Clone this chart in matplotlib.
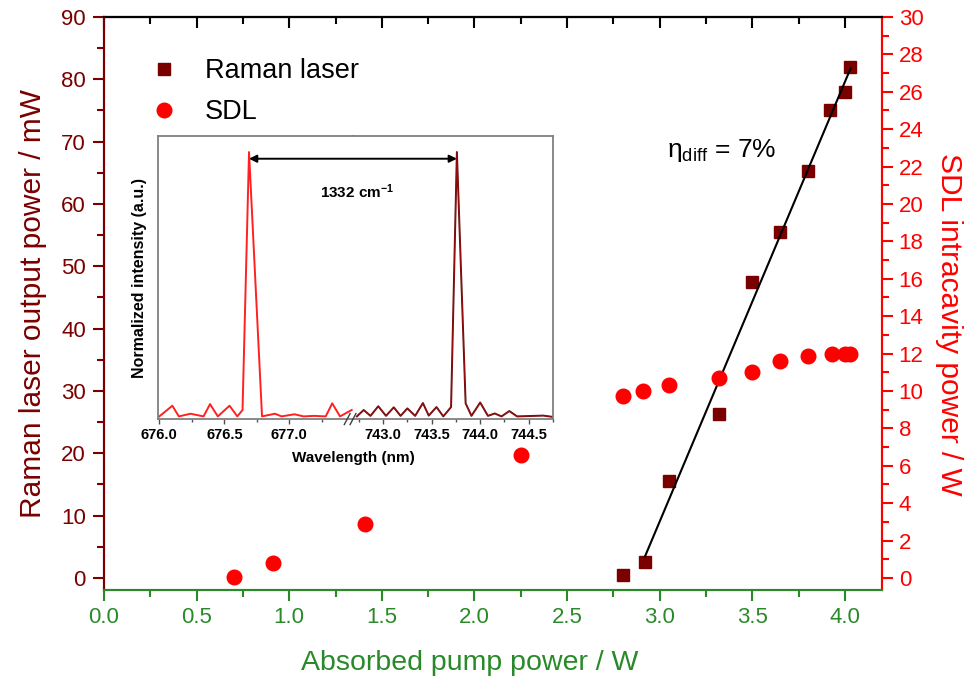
import numpy as np
import matplotlib
matplotlib.use("Agg")
import matplotlib.pyplot as plt
from matplotlib.ticker import MultipleLocator, FixedLocator
from matplotlib.lines import Line2D
from matplotlib.patches import ConnectionPatch

plt.rcParams['font.family'] = ['Liberation Sans', 'DejaVu Sans']
plt.rcParams['mathtext.fontset'] = 'custom'
plt.rcParams['mathtext.rm'] = 'Liberation Sans'
plt.rcParams['mathtext.bf'] = 'Liberation Sans:bold'
plt.rcParams['mathtext.it'] = 'Liberation Sans:italic'

# ---------------- data ----------------
raman_x = [2.80, 2.92, 3.05, 3.32, 3.50, 3.65, 3.80, 3.92, 4.00, 4.03]
raman_mw = [0.5, 2.5, 15.5, 26.3, 47.5, 55.5, 65.3, 75.0, 78.0, 82.0]

sdl_x = [0.70, 0.91, 1.41, 2.25, 2.80, 2.91, 3.05, 3.32, 3.50, 3.65, 3.80, 3.93, 4.00, 4.03]
sdl_w = [0.05, 0.8, 2.9, 6.6, 9.75, 10.0, 10.3, 10.7, 11.0, 11.6, 11.85, 12.0, 12.0, 12.0]

# inset spectrum (normalized intensity)
spec1_nm = [676.00, 676.10, 676.15, 676.24, 676.34, 676.39, 676.45, 676.54, 676.60,
            676.64, 676.69, 676.79, 676.89, 676.94, 677.04, 677.11, 677.19, 677.28,
            677.33, 677.39, 677.48]
spec1_i = [0.01, 0.05, 0.01, 0.02, 0.01, 0.056, 0.01, 0.05, 0.01,
           0.034, 1.00, 0.01, 0.02, 0.01, 0.018, 0.01, 0.012, 0.01,
           0.059, 0.01, 0.034]
spec2_nm = [742.73, 742.80, 742.87, 742.95, 743.03, 743.11, 743.18, 743.25, 743.33,
            743.41, 743.47, 743.55, 743.62, 743.70, 743.76, 743.85, 743.91, 744.00,
            744.08, 744.15, 744.22, 744.30, 744.38, 744.65, 744.75]
spec2_i = [0.01, 0.034, 0.012, 0.048, 0.012, 0.044, 0.012, 0.04, 0.012,
           0.06, 0.013, 0.045, 0.01, 0.045, 1.00, 0.059, 0.012, 0.062,
           0.012, 0.021, 0.01, 0.03, 0.01, 0.013, 0.008]

x_ticks = [0.0, 0.5, 1.0, 1.5, 2.0, 2.5, 3.0, 3.5, 4.0]
left_ticks = list(range(0, 91, 10))
right_ticks = list(range(0, 31, 2))
inset_ticks1 = [676.0, 676.5, 677.0]
inset_ticks2 = [743.0, 743.5, 744.0, 744.5]

# ---------------- colours ----------------
MAROON = '#7a0000'
RED = '#ff0000'
GREEN = '#2a8a2a'

fig = plt.figure(figsize=(9.69, 6.87), dpi=100)
ax = fig.add_axes([0.1073, 0.1412, 0.8029, 0.8341])
ax2 = ax.twinx()

ax.set_xlim(0, 4.2)
ax.set_ylim(-1.93, 90)
ax2.set_ylim(-1.93 / 3, 30)

# Raman squares and linear fit
ax.plot(raman_x, raman_mw, 's', color=MAROON, markersize=9, zorder=3)
fx = np.array(raman_x[1:])
fy = np.array(raman_mw[1:])
p = np.polyfit(fx, fy, 1)
xx = np.array([fx.min(), fx.max()])
ax.plot(xx, np.polyval(p, xx), '-', color='black', lw=1.5, zorder=4)

# SDL circles
ax2.plot(sdl_x, sdl_w, 'o', color=RED, markersize=10.5, zorder=3)

# axes styling
ax.set_xticks(x_ticks)
ax.set_xticklabels([f'{v:.1f}' for v in x_ticks])
ax.xaxis.set_minor_locator(MultipleLocator(0.25))
ax.set_yticks(left_ticks)
ax.yaxis.set_minor_locator(MultipleLocator(5))
ax2.set_yticks(right_ticks)
ax2.yaxis.set_minor_locator(MultipleLocator(1))

ax.tick_params(axis='x', which='both', direction='out', colors=GREEN, top=False, width=1.5)
ax.tick_params(axis='x', which='major', length=8, labelsize=16, pad=4)
ax.tick_params(axis='x', which='minor', length=5)
ax.tick_params(axis='y', which='both', direction='out', colors=MAROON, width=1.5)
ax.tick_params(axis='y', which='major', length=8, labelsize=16, pad=5)
ax.tick_params(axis='y', which='minor', length=5)
ax2.tick_params(axis='y', which='both', direction='out', colors=RED, width=1.5)
ax2.tick_params(axis='y', which='major', length=8, labelsize=16, pad=4)
ax2.tick_params(axis='y', which='minor', length=5)

# top ticks (inward, black)
axt = ax.secondary_xaxis('top')
axt.set_xticks(x_ticks)
axt.set_xticklabels([])
axt.xaxis.set_minor_locator(MultipleLocator(0.25))
axt.tick_params(axis='x', which='both', direction='in', colors='black', width=1.5)
axt.tick_params(axis='x', which='major', length=8)
axt.tick_params(axis='x', which='minor', length=5)
axt.spines['top'].set_color('black')
axt.spines['top'].set_linewidth(1.5)

for a in (ax, ax2):
    a.spines['bottom'].set_color(GREEN)
    a.spines['left'].set_color(MAROON)
    a.spines['right'].set_color(RED)
    a.spines['top'].set_color('black')
    for s in a.spines.values():
        s.set_linewidth(1.5)

ax.set_xlabel('Absorbed pump power / W', color=GREEN, fontsize=20.5)
ax.xaxis.set_label_coords(0.47, -0.105)
ax.set_ylabel('Raman laser output power / mW', color=MAROON, fontsize=21.5, labelpad=10)
ax2.set_ylabel('SDL intracavity power / W', color=RED, fontsize=21.5, rotation=270, labelpad=26)
ax2.yaxis.set_label_coords(1.104, 0.464)

# efficiency annotation
ax.text(3.04, 68.5, 'η$_{\\mathrm{diff}}$ = 7%', fontsize=19, color='black',
        ha='left', va='center')

# legend
handles = [Line2D([], [], ls='none', marker='s', color=MAROON, markersize=9),
           Line2D([], [], ls='none', marker='o', color=RED, markersize=10.5)]
ax2.legend(handles, ['Raman laser', 'SDL'], loc='upper left', bbox_to_anchor=(0.029, 0.947),
           frameon=False, fontsize=19.5, handletextpad=0.5, labelspacing=0.55, borderaxespad=0)

# ---------------- inset ----------------
INS_B, INS_H = 0.390, 0.412
axL = fig.add_axes([0.1631, INS_B, 0.2012, INS_H])
axR = fig.add_axes([0.3643, INS_B, 0.2064, INS_H])
axL.plot(spec1_nm, spec1_i, '-', color='#ff2020', lw=1.4)
axR.plot(spec2_nm, spec2_i, '-', color='#6a0a0a', lw=1.4)
axR.plot(spec2_nm, spec2_i, '-', color='#d01010', lw=0.5, alpha=0.6)
axL.set_xlim(675.99, 677.49)
axR.set_xlim(742.69, 744.75)
for a in (axL, axR):
    a.set_ylim(0, 1.06)
    a.set_yticks([])
    a.patch.set_facecolor('white')
    for s in a.spines.values():
        s.set_color('#808080')
        s.set_linewidth(1.3)
    a.tick_params(axis='x', which='both', direction='out', colors='#505050', width=1.0,
                  labelcolor='black', labelsize=10.5, pad=3)
    a.tick_params(axis='x', which='major', length=3.5)
    a.tick_params(axis='x', which='minor', length=2.5)
axL.spines['right'].set_visible(False)
axR.spines['left'].set_visible(False)
axL.set_xticks(inset_ticks1)
axL.set_xticklabels([f'{v:.1f}' for v in inset_ticks1], fontweight='bold')
axL.xaxis.set_minor_locator(FixedLocator([676.25, 676.75, 677.25]))
axR.set_xticks(inset_ticks2)
axR.set_xticklabels([f'{v:.1f}' for v in inset_ticks2], fontweight='bold')
axR.xaxis.set_minor_locator(FixedLocator([742.75, 743.25, 743.75, 744.25, 744.75]))

axL.set_ylabel('Normalized intensity (a.u.)', fontsize=11.5, fontweight='bold', labelpad=8)
fig.text(0.3643, 0.334, 'Wavelength (nm)', fontsize=11, fontweight='bold',
         ha='center', va='center')

# axis break marks
for dx in (-0.006, 0.0):
    fig.add_artist(Line2D([0.3643 + dx - 0.003, 0.3643 + dx + 0.003],
                          [INS_B - 0.008, INS_B + 0.008], color='#404040', lw=1.0))

# double arrow between peaks
arrow = ConnectionPatch(xyA=(676.69, 0.975), coordsA=axL.transData,
                        xyB=(743.76, 0.975), coordsB=axR.transData,
                        arrowstyle='<|-|>', color='black', lw=1.4,
                        mutation_scale=11, shrinkA=0, shrinkB=0, zorder=5)
fig.add_artist(arrow)
fig.text(0.3684, 0.7215, r'1332 cm$^{\mathbf{-1}}$', fontsize=11, fontweight='bold',
         ha='center', va='center')

fig.savefig('out.png', dpi=100)
